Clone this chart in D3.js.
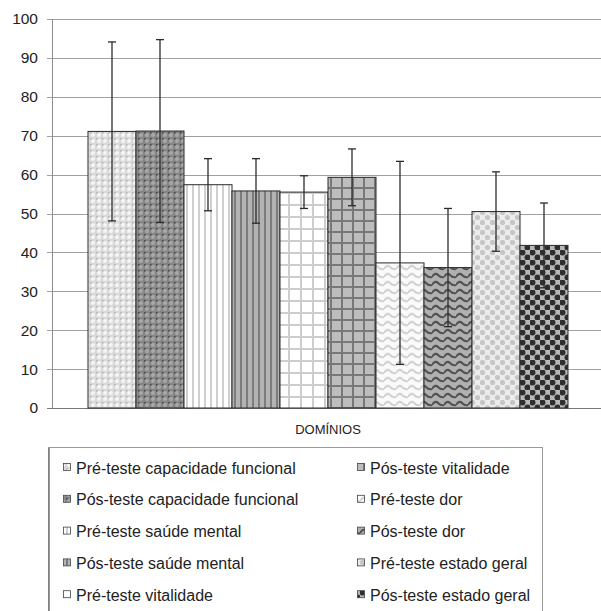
<!DOCTYPE html>
<html><head><meta charset="utf-8">
<script src="https://cdn.jsdelivr.net/npm/d3@7"></script>
<style>body{margin:0;background:#fff}svg{display:block;font-family:"Liberation Sans",Arial,sans-serif}</style>
</head><body><svg id="c" width="601" height="611"></svg>
<script>
const category = ["DOMÍNIOS"];
const seriesNames = ["Pré-teste capacidade funcional","Pós-teste capacidade funcional","Pré-teste saúde mental","Pós-teste saúde mental","Pré-teste vitalidade","Pós-teste vitalidade","Pré-teste dor","Pós-teste dor","Pré-teste estado geral","Pós-teste estado geral"];
const means = [71.1, 71.2, 57.4, 55.8, 55.5, 59.3, 37.3, 36.1, 50.5, 41.8];
const errors = [23.0, 23.5, 6.7, 8.3, 4.2, 7.3, 26.1, 15.2, 10.2, 10.9];
const yTicks = [0,10,20,30,40,50,60,70,80,90,100];

const svg = d3.select("#c");
const L = 52, R = 604, T = 19, B = 408;
const y = d3.scaleLinear().domain([0,100]).range([B,T]);
const xCat = d3.scaleBand().domain(category).range([L,R]).paddingInner(0).paddingOuter(0.075);
const x = d3.scaleBand().domain(seriesNames).range([xCat(category[0]), xCat(category[0]) + xCat.bandwidth()]).padding(0);

// patterns
const defs = svg.append("defs");
function pat(id, w, h, draw){ const p = defs.append("pattern").attr("id",id).attr("patternUnits","userSpaceOnUse").attr("width",w).attr("height",h); draw(p); }
pat("p0",6,6,p=>{p.append("rect").attr("width",6).attr("height",6).attr("fill","#d9d9d9");p.append("circle").attr("cx",3).attr("cy",3).attr("r",2).attr("fill","#f5f5f5");p.append("rect").attr("width",1.5).attr("height",1.5).attr("fill","#b5b5b5");});
pat("p1",6,6,p=>{p.append("rect").attr("width",6).attr("height",6).attr("fill","#858585");p.append("circle").attr("cx",3).attr("cy",3).attr("r",2).attr("fill","#a8a8a8");p.append("rect").attr("width",1.5).attr("height",1.5).attr("fill","#444");});
pat("p2",6,6,p=>{p.append("rect").attr("width",6).attr("height",6).attr("fill","#fff");p.append("rect").attr("width",2).attr("height",6).attr("fill","#cfcfcf");});
pat("p3",6,6,p=>{p.append("rect").attr("width",6).attr("height",6).attr("fill","#b3b3b3");p.append("rect").attr("width",2).attr("height",6).attr("fill","#7c7c7c");});
pat("p4",12,12,p=>{p.append("rect").attr("width",12).attr("height",12).attr("fill","#fff");p.append("rect").attr("width",2).attr("height",12).attr("fill","#cdcdcd");p.append("rect").attr("width",12).attr("height",2).attr("fill","#cdcdcd");});
pat("p5",11,11,p=>{p.append("rect").attr("width",11).attr("height",11).attr("fill","#bdbdbd");p.append("rect").attr("width",2).attr("height",11).attr("fill","#787878");p.append("rect").attr("width",11).attr("height",2).attr("fill","#787878");});
pat("p6",12,8,p=>{p.append("rect").attr("width",12).attr("height",8).attr("fill","#fafafa");p.append("path").attr("d","M0,5 Q3,0 6,3 Q9,6 12,5").attr("fill","none").attr("stroke","#d2d2d2").attr("stroke-width",2);});
pat("p7",12,8,p=>{p.append("rect").attr("width",12).attr("height",8).attr("fill","#b0b0b0");p.append("path").attr("d","M0,5 Q3,0 6,3 Q9,6 12,5").attr("fill","none").attr("stroke","#505050").attr("stroke-width",2);});
pat("p8",10,10,p=>{p.append("rect").attr("width",10).attr("height",10).attr("fill","#ececec");p.append("circle").attr("cx",2.5).attr("cy",2.5).attr("r",2.6).attr("fill","#c6c6c6");p.append("circle").attr("cx",7.5).attr("cy",7.5).attr("r",2.6).attr("fill","#c6c6c6");});
pat("p9",10,10,p=>{p.append("rect").attr("width",10).attr("height",10).attr("fill","#b8b8b8");p.append("circle").attr("cx",2.5).attr("cy",2.5).attr("r",3).attr("fill","#2e2e2e");p.append("circle").attr("cx",7.5).attr("cy",7.5).attr("r",3).attr("fill","#2e2e2e");});

// gridlines
svg.append("g").selectAll("line").data(yTicks).join("line")
  .attr("x1",L-5).attr("x2",R).attr("y1",d=>Math.round(y(d))+0.5).attr("y2",d=>Math.round(y(d))+0.5)
  .attr("stroke",d=>d===0?"#777":"#a0a0a0").attr("stroke-width",1);
// y axis
const yAxis = d3.axisLeft(y).tickValues(yTicks).tickSize(0).tickPadding(0);
const ga = svg.append("g").attr("transform",`translate(${L-14},0)`).call(yAxis);
ga.select(".domain").remove();
ga.selectAll("text").attr("font-size","15.5px").attr("fill","#222").attr("font-family","Liberation Sans, Arial, sans-serif");
svg.append("line").attr("x1",L+0.5).attr("x2",L+0.5).attr("y1",T).attr("y2",B+0.5).attr("stroke","#8c8c8c");

// bars
svg.append("g").selectAll("rect").data(seriesNames).join("rect")
  .attr("x",d=>x(d)).attr("width",x.bandwidth())
  .attr("y",(d,i)=>y(means[i])).attr("height",(d,i)=>y(0)-y(means[i]))
  .attr("fill",(d,i)=>`url(#p${i})`).attr("stroke","#2a2a2a").attr("stroke-width",1);

// error bars
const eg = svg.append("g").attr("stroke","#2a2a2a").attr("stroke-width",1.3);
seriesNames.forEach((d,i)=>{
  const cx = x(d)+x.bandwidth()/2;
  const t = y(means[i]+errors[i]), b = y(means[i]-errors[i]);
  eg.append("line").attr("x1",cx).attr("x2",cx).attr("y1",t).attr("y2",b);
  eg.append("line").attr("x1",cx-4).attr("x2",cx+4).attr("y1",t).attr("y2",t);
  eg.append("line").attr("x1",cx-4).attr("x2",cx+4).attr("y1",b).attr("y2",b);
});

// axis title
svg.append("text").attr("x",xCat(category[0])+xCat.bandwidth()/2).attr("y",434).attr("text-anchor","middle")
  .attr("font-size","13px").attr("fill","#222").text(category[0]);

// legend
svg.append("rect").attr("x",48.5).attr("y",447.5).attr("width",494).attr("height",200)
  .attr("fill","#fff").attr("stroke","#9a9a9a");
svg.append("line").attr("x1",49).attr("x2",49).attr("y1",448).attr("y2",611).attr("stroke","#777").attr("stroke-width",1.5);
const lg = svg.append("g");
seriesNames.forEach((d,i)=>{
  const col = Math.floor(i/5), row = i%5;
  const sx = col===0?63:357, cy = 468 + row*31.8;
  lg.append("rect").attr("x",sx+0.5).attr("y",cy-4.5).attr("width",7).attr("height",7)
    .attr("fill",`url(#p${i})`).attr("stroke","#444").attr("stroke-width",0.8);
  lg.append("text").attr("x",sx+13).attr("y",cy+5.5).attr("font-size","16px").attr("fill","#222").text(d);
});
</script></body></html>
